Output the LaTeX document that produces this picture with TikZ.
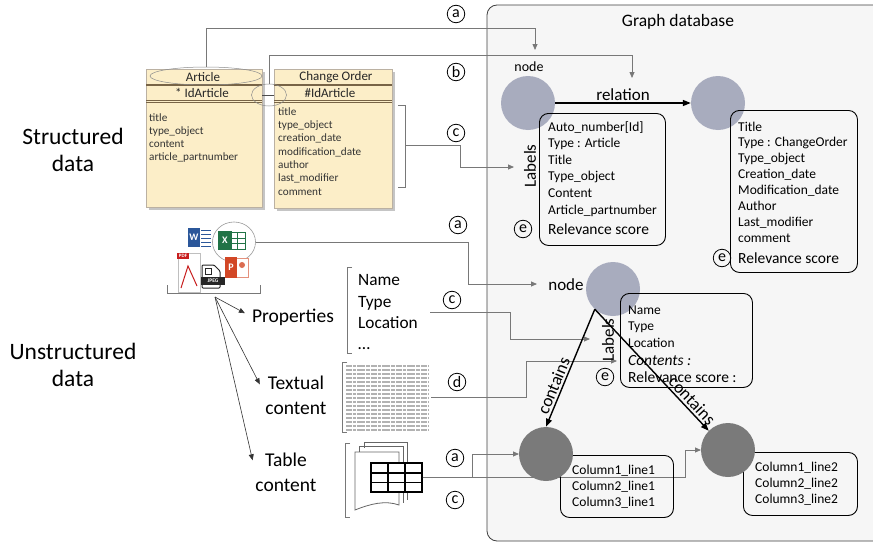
\documentclass[tikz,border=0pt]{standalone}
\usepackage{fontspec}
\setmainfont{Carlito}
\usetikzlibrary{arrows.meta,shadows,shapes.geometric}
\definecolor{tabfill}{RGB}{252,238,200}
\definecolor{tabline}{RGB}{120,100,70}
\definecolor{panelgray}{RGB}{246,246,246}
\definecolor{nodeblue}{RGB}{168,172,190}
\definecolor{nodedark}{RGB}{122,122,122}
\definecolor{wiregray}{RGB}{120,120,120}
\definecolor{wordblue}{RGB}{43,87,154}
\definecolor{xlgreen}{RGB}{33,115,70}
\definecolor{pptred}{RGB}{210,71,38}
\definecolor{pdfred}{RGB}{200,30,30}
\begin{document}
\begin{tikzpicture}[x=1pt,y=-1pt,
  wire/.style={draw=wiregray, line width=0.8pt},
  arrowend/.style={-{Triangle[length=6pt,width=5pt]}},
  boldarrow/.style={draw=black, line width=1.4pt, -{Triangle[length=8pt,width=6pt]}},
  gnode/.style={circle, fill=nodeblue, minimum size=54pt, inner sep=0pt},
  tnode/.style={circle, fill=nodedark, minimum size=54pt, inner sep=0pt},
  lblbox/.style={draw, rounded corners=9pt, line width=0.9pt, anchor=north west, inner sep=0pt},
  fld/.style={anchor=base west, inner sep=0pt, font=\fontsize{13.5}{16}\selectfont},
  tfld/.style={anchor=base west, inner sep=0pt, text=black!80, font=\fontsize{11.2}{13}\selectfont},
  thead/.style={inner sep=0pt, text=black!85, font=\fontsize{13}{15}\selectfont},
  score/.style={anchor=base west, inner sep=0pt, font=\fontsize{15.5}{18}\selectfont},
  prop/.style={anchor=base west, inner sep=0pt, font=\fontsize{17.3}{20}\selectfont},
  letter/.style={circle, draw, line width=0.8pt, inner sep=0pt, minimum size=17.5pt, font=\fontsize{16}{16}\selectfont},
  sidelabel/.style={align=center, inner sep=0pt, font=\fontsize{23.5}{27}\selectfont},
  kind/.style={align=center, inner sep=0pt, font=\fontsize{19.5}{25}\selectfont},
  tablebox/.style={draw=tabline!50, fill=tabfill, anchor=north west, inner sep=0pt,
    drop shadow={shadow xshift=3pt, shadow yshift=-3pt, opacity=0.45}},
  icon/.style={inner sep=0pt, text=white, font=\fontsize{10}{10}\selectfont\bfseries},
]
\useasboundingbox (0,0) rectangle (873,546);
\clip (0,0) rectangle (873,546);
\fill[white] (0,0) rectangle (873,546);

% graph database panel
\draw[fill=panelgray, draw=black!75, line width=0.8pt, rounded corners=10pt] (487,5) rectangle (885,541);
\node[font=\fontsize{17.5}{20}\selectfont] (gdb) at (678,22) {Graph database};

% structured data
\node[sidelabel] (struct) at (73,150) {Structured\\data};
\node[tablebox, minimum width=116pt, minimum height=138pt] (article) at (146,69) {};
\node[tablebox, minimum width=118pt, minimum height=139pt] (chorder) at (274,69) {};
\draw[tabline, line width=1.1pt] (146,85) -- (262,85) (274,85) -- (392,85);
\draw[tabline, line width=0.6pt] (146,100) -- (262,100) (146,102.5) -- (262,102.5);
\draw[tabline, line width=0.6pt] (274,100) -- (392,100) (274,102.5) -- (392,102.5);
\node[thead] (arthead) at (203,77) {Article};
\node[thead] (artkey) at (202,93) {* IdArticle};
\node[thead] (cohead) at (336,77) {Change Order};
\node[thead] (cokey) at (330,93) {\#IdArticle};
\foreach \t [count=\i] in {title, type\_object, content, article\_partnumber}
  \node[tfld] (af\i) at (149, 108+13.2*\i) {\t};
\foreach \t [count=\i] in {title, type\_object, creation\_date, modification\_date, author, last\_modifier, comment}
  \node[tfld] (cf\i) at (278, 101.7+13.33*\i) {\t};
\node[ellipse, draw=black!45, line width=0.5pt, minimum width=112pt, minimum height=18pt, inner sep=0pt] (artring) at (206,76) {};
\node[ellipse, draw=black!45, line width=0.5pt, minimum width=35pt, minimum height=22pt, inner sep=0pt] (keyring) at (269,95) {};
\draw[black!70, line width=0.8pt] (article.east |- keyring) -- (chorder.west |- keyring);

\coordinate (atip) at (535,50);
\coordinate (btip) at (632,78);
\coordinate (cbr) at (405,145);
\coordinate (ctip) at (514,167);
\draw[wire, arrowend] (artring.north) -- (206,28) -| (atip);
\draw[wire, arrowend] (keyring.north) -- (269,55) -| (btip);
\draw[wire] (398,105) -- (405,105) -- (405,187) -- (398,187);
\draw[wire, arrowend] (cbr) -- (460,145) |- (ctip);
\node[letter] (la1) at (456,14) {a};
\node[letter] (lb1) at (456,72) {b};
\node[letter] (lc1) at (456,133) {c};

% unstructured data
\node[sidelabel] (unstruct) at (73,365) {Unstructured\\data};
\node[icon, fill=wordblue, minimum width=12pt, minimum height=19pt] (word) at (194,237) {W};
\foreach \y in {230,234,...,246}
  \draw[wordblue, line width=1pt] (201,\y) -- (211,\y);
\draw[xlgreen, line width=0.6pt] (229,232) rectangle (245,249);
\draw[xlgreen, line width=0.6pt] (237,232) -- (237,249) (229,238) -- (245,238) (229,243.5) -- (245,243.5);
\node[icon, fill=xlgreen, minimum width=14pt, minimum height=19pt] (excel) at (225,240) {X};
\node[ellipse, draw=black!40, line width=0.6pt, minimum width=43pt, minimum height=40pt, inner sep=0pt] (xlring) at (234,242) {};
\draw[black!25] (178,253) rectangle (200,292);
\draw[pdfred, line width=1pt] (181,288) -- (188,266) -- (197,286);
\node[icon, fill=pdfred, minimum width=12pt, minimum height=6pt, font=\fontsize{5}{5}\selectfont\bfseries] (pdf) at (183,256) {PDF};
\draw[pptred!60, line width=0.6pt, fill=white] (233,258) rectangle (248,277);
\fill[pptred!80] (242,265) circle (3pt);
\node[icon, fill=pptred, minimum width=12pt, minimum height=21pt] (ppt) at (231,267) {P};
\draw[black!85, line width=1pt, fill=white, rounded corners=1pt] (202,265) -- (214,265) -- (220,271) -- (220,288) -- (202,288) -- cycle;
\draw[black!85, line width=0.7pt] (205,268) rectangle (211,274);
\node[icon, fill=black!85, minimum width=24pt, minimum height=8pt, font=\fontsize{5.5}{6}\selectfont\bfseries] (jpeg) at (213,281) {JPEG};
\draw[wire] (167,285) -- (167,293) -- (260,293) -- (260,285);

\coordinate (fan) at (215,297);
\node[kind] (props) at (293,317) {Properties};
\node[kind] (textual) at (296,395) {Textual\\content};
\node[kind] (table) at (286,472) {Table\\content};
\draw[black!80, line width=0.6pt, arrowend, shorten >=8pt] (fan) -- (props.west);
\draw[black!80, line width=0.6pt, arrowend, shorten >=12pt] (fan) -- (textual.west);
\draw[black!80, line width=0.6pt, arrowend, shorten >=12pt] (fan) -- (table.west);

\draw[wire] (352,267) -- (347,267) -- (347,353) -- (352,353);
\foreach \t [count=\i] in {Name, Type, Location}
  \node[prop] (p\i) at (358, 263.8+21.7*\i) {\t};
\node[prop] (p4) at (358,349) {\dots};

\draw[wire] (347,362) -- (342,362) -- (342,432) -- (347,432);
\node[minimum width=88pt, minimum height=70pt, inner sep=0pt] (txt) at (387,397) {};
\foreach \y in {366,370,...,430}
  \draw[black!30, line width=1.2pt, dash pattern=on 6pt off 1pt on 3pt off 1pt on 8pt off 1pt on 4pt off 1pt] (346,\y) -- (429,\y);

\draw[wire] (350,443) -- (345,443) -- (345,517) -- (350,517);
\draw[black!60, line width=0.8pt] (364,448) -- (364,442) -- (407,442) -- (407,500);
\draw[black!60, line width=0.8pt] (359,452) -- (359,446) -- (403,446) -- (403,503);
\draw[black!60, line width=0.8pt, fill=white] (355,452) -- (399,452) -- (399,505) .. controls (385,500) and (370,504) .. (355,510) -- cycle;
\node[draw=black, line width=1.3pt, fill=white, minimum width=51pt, minimum height=29pt, inner sep=0pt] (grid) at (396.5,477.5) {};
\draw[line width=1.3pt] (388,463) -- (388,492) (405,463) -- (405,492) (371,473) -- (422,473) (371,482.5) -- (422,482.5);

\coordinate (docatip) at (537,284);
\coordinate (pcstart) at (430,312);
\coordinate (pctip) at (590,339);
\coordinate (dtip) at (617,361);
\coordinate (row1in) at (519,454);
\coordinate (row2in) at (701,450);
\draw[wire, arrowend] (xlring.east) -| (468,284) -- (docatip);
\draw[wire, arrowend] (pcstart) -| (510,339) -- (pctip);
\draw[wire, arrowend] (txt.east) -| (526,361) -- (dtip);
\node[letter] (la2) at (458,225) {a};
\node[letter] (lc2) at (452,300) {c};
\node[letter] (ld2) at (457,382) {d};

% graph nodes
\node[gnode] (art) at (528,103) {};
\node[font=\fontsize{14}{16}\selectfont] (artlbl) at (529,67) {node};
\node[gnode] (chg) at (718,103) {};
\draw[boldarrow] (art) -- (chg) node[midway, above=2pt, inner sep=0pt, font=\fontsize{17}{20}\selectfont] (rel) {relation};

\node[lblbox, minimum width=126pt, minimum height=132pt] (artbox) at (539,113) {};
\foreach \t [count=\i] in {Auto\_number[Id], Type : Article, Title, Type\_object, Content, Article\_partnumber}
  \node[fld] (ab\i) at (548, 114.4+16.6*\i) {\t};
\node[score] (abs) at (548,234) {Relevance score};
\node[rotate=90, inner sep=0pt, font=\fontsize{17}{20}\selectfont] (artlabels) at (530,166) {Labels};
\node[letter] (le1) at (523,229) {e};

\node[lblbox, minimum width=127pt, minimum height=162pt] (chgbox) at (730,110) {};
\foreach \t [count=\i] in {Title, Type : ChangeOrder, Type\_object, Creation\_date, Modification\_date, Author, Last\_modifier, comment}
  \node[fld] (cb\i) at (738, 115.1+15.9*\i) {\t};
\node[score] (cbs) at (738,263) {Relevance score};
\node[letter] (le2) at (722,258) {e};

\node[gnode] (doc) at (613,289) {};
\node[font=\fontsize{17}{20}\selectfont] (doclbl) at (566,285) {node};
\node[lblbox, minimum width=132pt, minimum height=94pt] (docbox) at (620,293) {};
\foreach \t [count=\i] in {Name, Type, Location}
  \node[fld] (db\i) at (628, 297.3+16.7*\i) {\t};
\node[score, font=\fontsize{15.5}{18}\selectfont\itshape] (db4) at (628,365) {Contents :};
\node[score] (db5) at (628,382) {Relevance score :};
\node[rotate=90, inner sep=0pt, font=\fontsize{17}{20}\selectfont] (doclabels) at (608,340) {Labels};
\node[letter] (le3) at (605,377) {e};

\draw[wire, arrowend] (grid.east) -| (472,454) -- (row1in);
\draw[wire, arrowend] (grid.east) -| (685,450) -- (row2in);
\node[letter] (la3) at (455,458) {a};
\node[letter] (lc3) at (455,500) {c};

\node[lblbox, minimum width=113pt, minimum height=62pt] (row1box) at (560,455) {};
\foreach \t [count=\i] in {Column1\_line1, Column2\_line1, Column3\_line1}
  \node[fld] (r1\i) at (572, 458+16*\i) {\t};
\node[lblbox, minimum width=114pt, minimum height=63pt] (row2box) at (743,452) {};
\foreach \t [count=\i] in {Column1\_line2, Column2\_line2, Column3\_line2}
  \node[fld] (r2\i) at (755, 455+16*\i) {\t};
\node[tnode] (row1) at (546,454) {};
\node[tnode] (row2) at (728,450) {};

\coordinate (fork) at (doc.228);
\draw[boldarrow] (fork) -- (row1.north) node[pos=0.68, sloped, above=2pt, inner sep=0pt, font=\fontsize{17.5}{20}\selectfont] (cont1) {contains};
\draw[boldarrow] (fork) -- (row2.135) node[pos=0.8, sloped, above=2pt, inner sep=0pt, font=\fontsize{17.5}{20}\selectfont] (cont2) {contains};
\end{tikzpicture}
\end{document}
